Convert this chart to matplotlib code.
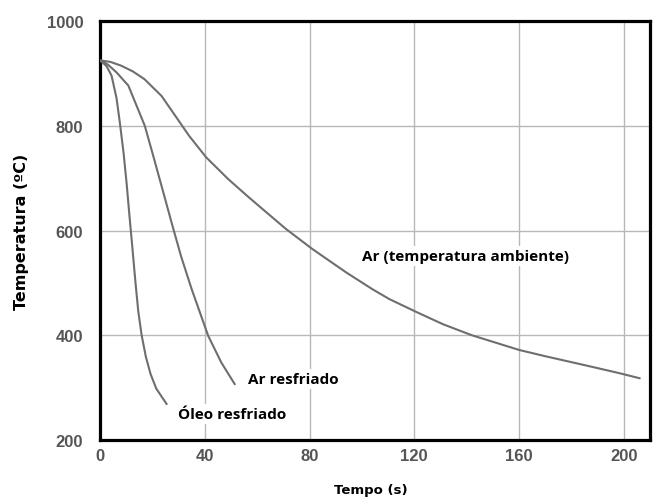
import matplotlib
matplotlib.use('Agg')
import matplotlib.pyplot as plt

plt.rcParams['font.family'] = ['Liberation Sans', 'DejaVu Sans']

# Curvas de resfriamento
ar_amb_t = [0, 4, 8, 12.5, 17, 23.5, 30, 34, 40.5, 49, 56, 63, 71, 81, 94, 104, 110.5, 121, 131, 142, 151, 160, 170, 185, 198, 206]
ar_amb_T = [925, 922, 915, 904, 889, 857, 810, 781, 740, 698, 667, 637, 603, 565, 520, 488, 469, 444, 421, 400, 386, 372, 360, 343, 328, 318]

ar_resf_t = [0, 3, 6.3, 10.8, 14, 17.1, 20.3, 24, 27.5, 31, 35, 41.3, 46.3, 51.4]
ar_resf_T = [925, 917, 902, 877, 838, 800, 743, 676, 612, 550, 488, 399, 348, 307]

oleo_t = [0, 2.5, 4.4, 6.3, 7.6, 9.0, 10.2, 11.3, 12.4, 13.5, 14.6, 15.9, 17.5, 19.3, 21.5, 25.4]
oleo_T = [925, 914, 896, 853, 805, 748, 688, 625, 565, 503, 446, 400, 359, 326, 298, 269]

x_ticks = [0, 40, 80, 120, 160, 200]
y_ticks = [200, 400, 600, 800, 1000]

fig = plt.figure(figsize=(6.61, 5.02), dpi=100)
ax = fig.add_axes([0.1513, 0.1215, 0.8321, 0.8345])

curve_color = '#6e6e6e'
for t, T in [(ar_amb_t, ar_amb_T), (ar_resf_t, ar_resf_T), (oleo_t, oleo_T)]:
    ax.plot(t, T, color=curve_color, lw=1.5, zorder=3, solid_joinstyle='round')

ax.set_xlim(0, 210)
ax.set_ylim(200, 1000)
ax.set_xticks(x_ticks)
ax.set_yticks(y_ticks)
ax.tick_params(length=0, labelsize=12, labelcolor='#555555')
ax.tick_params(axis='y', pad=12)
ax.tick_params(axis='x', pad=6)
for lab in ax.get_xticklabels() + ax.get_yticklabels():
    lab.set_fontweight('bold')

ax.grid(True, color='#b8b8b8', lw=1, zorder=0)

for sp in ax.spines.values():
    sp.set_linewidth(2.3)
    sp.set_color('black')

ax.set_xlabel('Tempo (s)', fontsize=9.5, fontweight='bold', family='DejaVu Sans')
ax.set_ylabel('Temperatura (ºC)', fontsize=11.5, fontweight='bold', family='DejaVu Sans')
ax.xaxis.set_label_coords(0.493, -0.117)
ax.yaxis.set_label_coords(-0.1436, 0.5)
ax.xaxis.label.set_va('center')
ax.yaxis.label.set_va('center')

box = dict(facecolor='white', edgecolor='none', pad=2)
lbl = dict(fontsize=11, fontweight='bold', family='Open Sans', va='baseline', bbox=box, zorder=4)
ax.text(100, 544, 'Ar (temperatura ambiente)', **lbl)
ax.text(56.5, 309, 'Ar resfriado', **lbl)
ax.text(29.8, 242, 'Óleo resfriado', **lbl)

fig.savefig('out.png', dpi=100)
